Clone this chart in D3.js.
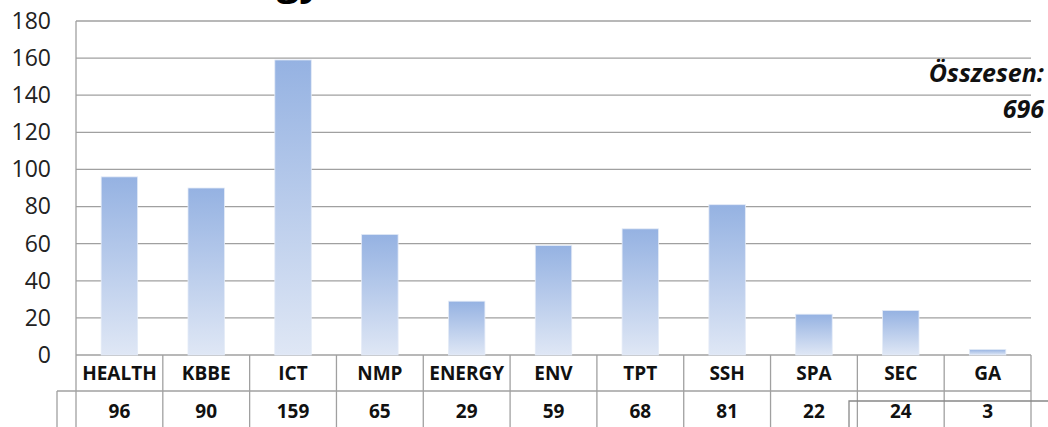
<!DOCTYPE html>
<html><head><meta charset="utf-8">
<script src="https://cdnjs.cloudflare.com/ajax/libs/d3/7.8.5/d3.min.js"></script>
<style>html,body{margin:0;padding:0;background:#fff;overflow:hidden}</style>
</head><body>
<svg id="c" width="1048" height="427"></svg>
<script>
const categories = ["HEALTH","KBBE","ICT","NMP","ENERGY","ENV","TPT","SSH","SPA","SEC","GA"];
const values = [96,90,159,65,29,59,68,81,22,24,3];
const yTicks = [0,20,40,60,80,100,120,140,160,180];
const titleText = "Technology";
const totalLabel = "Összesen:";
const totalValue = "696";

const svg = d3.select("#c");
const L = 76, R = 1031, T = 21, B = 355;
const font = "'Open Sans','Noto Sans',sans-serif";
const grid = "#a0a0a0";

const defs = svg.append("defs");
const g = defs.append("linearGradient").attr("id","bg").attr("x1",0).attr("y1",0).attr("x2",0).attr("y2",1);
g.append("stop").attr("offset","0%").attr("stop-color","#95b2e2");
g.append("stop").attr("offset","100%").attr("stop-color","#dfe7f5");

const x = d3.scaleBand().domain(categories).range([L,R]).paddingInner(0).paddingOuter(0);
const y = d3.scaleLinear().domain([0,180]).range([B,T]);

// title (cut off at top)
svg.append("text").attr("x",322).attr("y",-5).attr("text-anchor","end")
  .attr("font-family",font).attr("font-weight","bold").attr("font-size",40).attr("fill","#000").text(titleText);

// gridlines
svg.append("g").selectAll("line").data(yTicks).join("line")
  .attr("x1",L).attr("x2",R).attr("y1",d=>y(d)).attr("y2",d=>y(d))
  .attr("stroke",grid).attr("stroke-width",1.3);

// y axis labels
const ya = svg.append("g").attr("transform",`translate(${L},0)`)
  .call(d3.axisLeft(y).tickValues(yTicks).tickSize(0).tickPadding(25));
ya.select(".domain").remove();
ya.selectAll("text").attr("font-family",font).attr("font-size",23).attr("fill","#222");

// bars
const bw = x.bandwidth()*0.42;
svg.append("g").selectAll("rect").data(values).join("rect")
  .attr("x",(d,i)=>x(categories[i])+(x.bandwidth()-bw)/2)
  .attr("y",d=>y(d)).attr("width",bw).attr("height",d=>B-y(d))
  .attr("fill","url(#bg)").attr("stroke","#e4ebf7").attr("stroke-width",0.8);

// axis line
svg.append("line").attr("x1",L).attr("x2",L).attr("y1",T).attr("y2",427).attr("stroke",grid).attr("stroke-width",1.3);

// table
const tb = svg.append("g");
const rowY = 391;
tb.selectAll("line.v").data(categories).join("line")
  .attr("x1",d=>x(d)+x.bandwidth()).attr("x2",d=>x(d)+x.bandwidth())
  .attr("y1",B).attr("y2",427).attr("stroke",grid).attr("stroke-width",1.3);
tb.append("line").attr("x1",57).attr("x2",R).attr("y1",rowY).attr("y2",rowY).attr("stroke",grid).attr("stroke-width",1.3);
tb.append("line").attr("x1",57).attr("x2",57).attr("y1",rowY).attr("y2",427).attr("stroke",grid).attr("stroke-width",1.3);
tb.selectAll("text.cat").data(categories).join("text")
  .attr("x",d=>x(d)+x.bandwidth()/2).attr("y",380).attr("text-anchor","middle")
  .attr("font-family",font).attr("font-weight","bold").attr("font-size",19).attr("fill","#111").text(d=>d);
tb.selectAll("text.val").data(values).join("text")
  .attr("x",(d,i)=>x(categories[i])+x.bandwidth()/2).attr("y",418).attr("text-anchor","middle")
  .attr("font-family",font).attr("font-weight","bold").attr("font-size",19).attr("fill","#111").text(d=>d);

// overlay box bottom-right
svg.append("path").attr("d","M849,427 L849,401 L1050,401").attr("fill","none").attr("stroke","#888").attr("stroke-width",1.3);

// total
svg.append("text").attr("x",1044).attr("y",82).attr("text-anchor","end")
  .attr("font-family",font).attr("font-weight","bold").attr("font-style","italic").attr("font-size",25).attr("fill","#111").text(totalLabel);
svg.append("text").attr("x",1044).attr("y",118).attr("text-anchor","end")
  .attr("font-family",font).attr("font-weight","bold").attr("font-style","italic").attr("font-size",25).attr("fill","#111").text(totalValue);
</script>
</body></html>
